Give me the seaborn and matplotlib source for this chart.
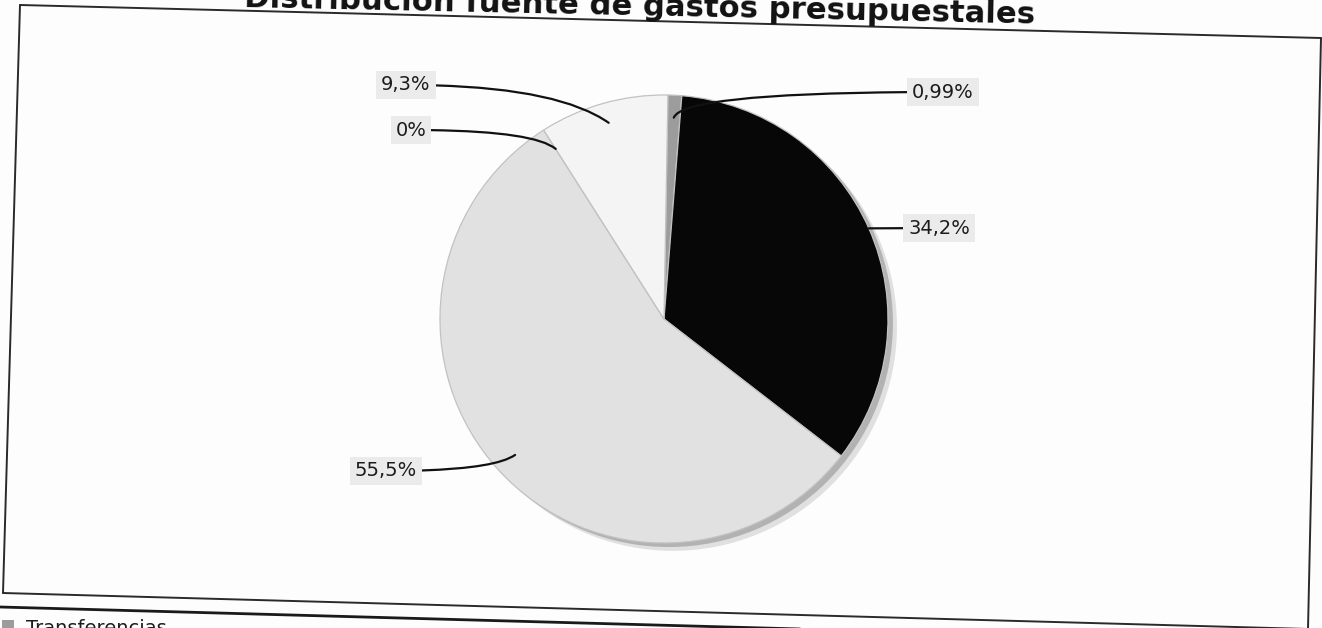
import matplotlib
matplotlib.use("Agg")
import matplotlib.pyplot as plt
import seaborn as sns
import numpy as np
from matplotlib.lines import Line2D
from matplotlib.patches import Rectangle

# ---- data ----
values = [0.99, 34.2, 55.5, 0.0, 9.3]
pct_labels = ["0,99%", "34,2%", "55,5%", "0%", "9,3%"]
slice_colors = ["#9c9c9c", "#070707", "#e1e1e1", "#d0d0d0", "#f4f4f4"]
title = "Distribución fuente de gastos presupuestales"
legend_first = "Transferencias"

W, H = 1322, 628
sns.set_theme(style="white")
plt.rcParams['font.family'] = ['DejaVu Sans']

fig = plt.figure(figsize=(W / 100, H / 100), dpi=100, facecolor='#fdfdfd')
ax = fig.add_axes([0, 0, 1, 1])
ax.set_facecolor('none')

# pie centre / radius in pixels (layout)
cx, cy, R = 664, 319, 224
total = sum(values)

# soft drop shadow (two layers)
ax.pie([total], colors=['#e0e0e0'], radius=1.0, center=(0.04, -0.035),
       wedgeprops=dict(linewidth=0))
ax.pie([total], colors=['#b2b2b2'], radius=1.0, center=(0.022, -0.018),
       wedgeprops=dict(linewidth=0))
wedges, _ = ax.pie(values, colors=slice_colors, startangle=89, counterclock=False,
                   radius=1.0, wedgeprops=dict(edgecolor='#c2c2c2', linewidth=0.9))
ax.set_aspect('auto')
ax.set_xlim(-cx / R, (W - cx) / R)
ax.set_ylim(-(H - cy) / R, cy / R)
ax.axis('off')

# ---- labels with leader lines ----
label_px = [(943, 92), (939, 228), (386, 471), (411, 130), (406, 85)]
target_r = [0.9, 1.0, 0.9, 0.9, 0.91]
conn = ["angle3,angleA=0,angleB=70", "arc3,rad=0", "angle3,angleA=0,angleB=35",
        "angle3,angleA=0,angleB=-40", "angle3,angleA=0,angleB=-35"]
for w, lab, (lx, ly), r, cs in zip(wedges, pct_labels, label_px, target_r, conn):
    ang = np.deg2rad((w.theta1 + w.theta2) / 2)
    xy = (r * np.cos(ang), r * np.sin(ang))
    xt = ((lx - cx) / R, (cy - ly) / R)
    ax.annotate(lab, xy=xy, xytext=xt, ha='center', va='center', fontsize=14,
                color='#1c1c1c', annotation_clip=False,
                bbox=dict(boxstyle='square,pad=0.25', fc='#ebebeb', ec='none'),
                arrowprops=dict(arrowstyle='-', connectionstyle=cs, color='#111111',
                                lw=1.6, shrinkA=0, shrinkB=0))

# ---- title (width fitted) ----
renderer = fig.canvas.get_renderer()
tmp = fig.text(0, 0, title, fontsize=18, fontweight='bold')
tw = tmp.get_window_extent(renderer).width
tmp.remove()
fs = 18 * 790 / tw
fig.text(640 / W, 1 - 15 / H, title, ha='center', va='baseline', fontsize=fs,
         fontweight='bold', color='#111111', rotation=-1.2, rotation_mode='anchor')

# ---- frame (scanned, slightly rotated) ----
def line(p, q, lw=1.4, c='#2a2a2a'):
    fig.add_artist(Line2D([p[0] / W, q[0] / W], [1 - p[1] / H, 1 - q[1] / H],
                          transform=fig.transFigure, color=c, lw=lw))

line((20, 5), (1321, 38))
line((20, 5), (3, 593))
line((3, 593), (1308, 629))
line((1321, 38), (1308, 629))
line((0, 607), (800, 629), lw=2.0, c='#1a1a1a')

# ---- legend (cut at the bottom) ----
fig.add_artist(Rectangle((2 / W, 1 - 632 / H), 12 / W, 12 / H, transform=fig.transFigure,
                         fc=slice_colors[0], ec='none'))
fig.text(26 / W, 1 - 634 / H, legend_first, ha='left', va='baseline', fontsize=14,
         color='#1c1c1c')

fig.savefig("out.png", dpi=100, facecolor=fig.get_facecolor())
